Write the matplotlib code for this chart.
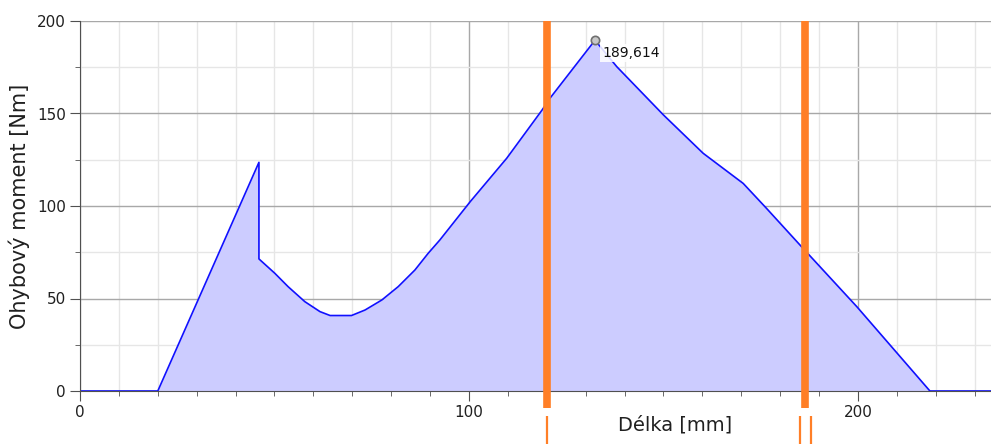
import matplotlib.pyplot as plt
from matplotlib.ticker import MultipleLocator

# bending moment along the shaft
x_mm = [0, 20, 46, 46, 50.1, 53.5, 57.8, 61.7, 64.3, 69.8, 73.3, 77.6, 81.8,
        86.1, 89.5, 92.5, 100.3, 109.7, 118.8, 120.8, 132.4, 138, 150, 160.2,
        170.5, 176.5, 185.1, 199.7, 218.5, 234]
m_nm = [0, 0, 123.6, 71.4, 63.6, 56.4, 48.3, 42.9, 40.8, 40.8, 43.8, 49.2, 56.4,
        65.4, 74.4, 81.6, 102.3, 125.8, 151.9, 158.2, 189.614, 175.3, 149.2,
        128.5, 112.2, 98.7, 78.9, 45.6, 0, 0]
peak_x = 132.4
peak_val = 189.614
sections = [120, 186.5]   # orange section marks
section_marks = [1, 2]    # | and ||

fig = plt.figure(figsize=(9.91, 4.44), dpi=100)
ax = fig.add_axes([80 / 991, 53 / 444, 911 / 991, 370 / 444])

ax.fill_between(x_mm, m_nm, 0, color='#CCCCFF', lw=0, zorder=2)
ax.plot(x_mm, m_nm, color='#1010FF', lw=1.2, zorder=3)

ax.set_xlim(0, 234.2)
ax.set_ylim(0, 200)
ax.xaxis.set_major_locator(MultipleLocator(100))
ax.xaxis.set_minor_locator(MultipleLocator(10))
ax.yaxis.set_major_locator(MultipleLocator(50))
ax.yaxis.set_minor_locator(MultipleLocator(25))
ax.grid(which='major', color='#A8A8A8', lw=1.0, zorder=1)
ax.grid(which='minor', color='#E6E6E6', lw=1.0, zorder=1)
ax.set_axisbelow(True)

for s in ['top', 'right']:
    ax.spines[s].set_visible(False)
for s in ['left', 'bottom']:
    ax.spines[s].set_color('#505050')
    ax.spines[s].set_zorder(4)
ax.tick_params(which='major', length=7, color='#505050', labelsize=11,
               labelcolor='#202020', pad=3)
ax.tick_params(which='minor', length=3.5, color='#505050')

# section lines
for xs, n in zip(sections, section_marks):
    ax.plot([xs, xs], [200, -9.2], color='#FF7F27', lw=5.5, clip_on=False,
            solid_capstyle='butt', zorder=5)
    offs = [0] if n == 1 else [-1.3, 1.3]
    for o in offs:
        ax.plot([xs + o, xs + o], [-13.5, -29], color='#FF7F27', lw=1.6,
                clip_on=False, solid_capstyle='butt', zorder=5)

# peak marker
ax.plot([peak_x], [peak_val], 'o', ms=6, mfc='#C8C8C8', mec='#707070',
        mew=1.2, zorder=6)
ax.annotate(f'{peak_val:.3f}'.replace('.', ','), (peak_x, peak_val),
            xytext=(5, -4), textcoords='offset points', ha='left', va='top',
            fontsize=10, color='#101010', zorder=7,
            bbox=dict(boxstyle='square,pad=0.15', fc='white', ec='none', alpha=0.85))

ax.set_ylabel('Ohybový moment [Nm]', fontsize=15, color='#202020', labelpad=5)
fig.text(675 / 991, 1 - 425 / 444, 'Délka [mm]', fontsize=14, color='#202020',
         ha='center', va='center')

fig.savefig('out.png', dpi=100)
